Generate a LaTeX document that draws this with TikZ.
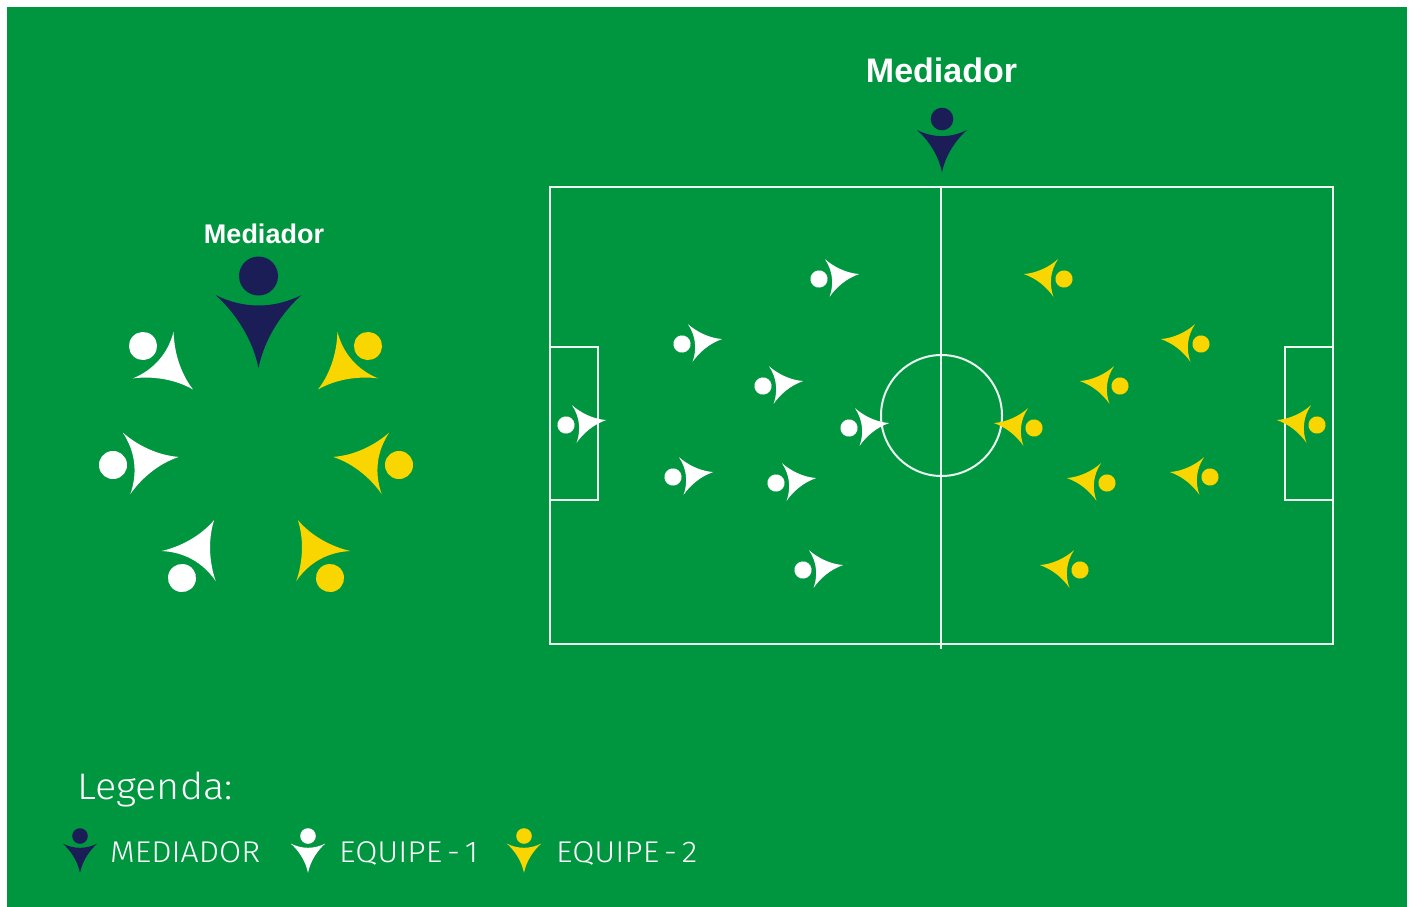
\documentclass[tikz,border=0pt]{standalone}
\usepackage{fontspec}
\setmainfont{Liberation Sans}
\newfontfamily\dinfont[UprightFont=* Light,WordSpace=0.55]{Fira Sans}
\definecolor{pitch}{HTML}{009640}
\definecolor{navy}{HTML}{1B1D57}
\definecolor{gold}{HTML}{F9D600}
\newcommand{\personfig}[5]{%
  \begin{scope}[shift={(#1,#2)},rotate=#3,scale=#4]
    \fill[#5] (0,0) circle (19.5);
    \fill[#5,line join=round] (-43,19) .. controls (-15,33) and (15,33) .. (43,19)
      .. controls (24,36) and (6,62) .. (0,92)
      .. controls (-6,62) and (-24,36) .. (-43,19) -- cycle;
  \end{scope}}
\tikzset{
  fieldline/.style={draw=white!92!pitch,line width=2pt},
  titlelabel/.style={text=white,font=\bfseries,anchor=base,inner sep=0pt},
  legendlabel/.style={text=white,anchor=base west,inner sep=0pt,xscale=1.07}
}
\begin{document}
\begin{tikzpicture}[x=1pt,y=-1pt]
\useasboundingbox (0,0) rectangle (1413,907);
\fill[white] (0,0) rectangle (1413,907);
\fill[pitch] (7,7) rectangle (1407,907);
% field
\draw[fieldline] (550,187) rectangle (1333,644);
\draw[fieldline] (941,187) -- (941,649);
\draw[fieldline] (941.5,415.5) circle (60.5);
\draw[fieldline] (550,347) rectangle (598,500);
\draw[fieldline] (1285,347) rectangle (1333,500);
% field players
\foreach \x/\y in {819/279,682/344,763/386,566/425,849/428,673/477,776/483,803/570}
  \personfig{\x}{\y}{97}{0.44}{white};
\foreach \x/\y in {1064/279,1201/344,1120/386,1317/425,1034/428,1210/477,1107/483,1080/570}
  \personfig{\x}{\y}{-97}{0.44}{gold};
\personfig{942}{119}{0}{0.58}{navy}
% ring
\personfig{258.5}{276}{0}{1}{navy}
\personfig{143}{346}{49}{0.72}{white}
\personfig{113}{465}{97}{0.72}{white}
\personfig{182}{578}{151}{0.72}{white}
\personfig{368}{346}{-49}{0.72}{gold}
\personfig{399}{465}{-97}{0.72}{gold}
\personfig{330}{578}{-151}{0.72}{gold}
% legend figures
\personfig{80}{836}{0}{0.4}{navy}
\personfig{308}{836}{0}{0.4}{white}
\personfig{524}{836}{0}{0.4}{gold}
% text
\node[titlelabel,font=\bfseries\fontsize{34}{34}\selectfont] (t1) at (941.5,82) {Mediador};
\node[titlelabel,font=\bfseries\fontsize{27}{27}\selectfont] (t2) at (264,243) {Mediador};
\node[legendlabel,font=\dinfont\fontsize{37}{37}\selectfont] (leg) at (77,799) {Legenda:};
\node[legendlabel,font=\dinfont\fontsize{30}{30}\selectfont] (l1) at (110,862) {MEDIADOR};
\node[legendlabel,font=\dinfont\fontsize{30}{30}\selectfont] (l2) at (339,862) {EQUIPE - 1};
\node[legendlabel,font=\dinfont\fontsize{30}{30}\selectfont] (l3) at (556,862) {EQUIPE - 2};
\end{tikzpicture}
\end{document}
